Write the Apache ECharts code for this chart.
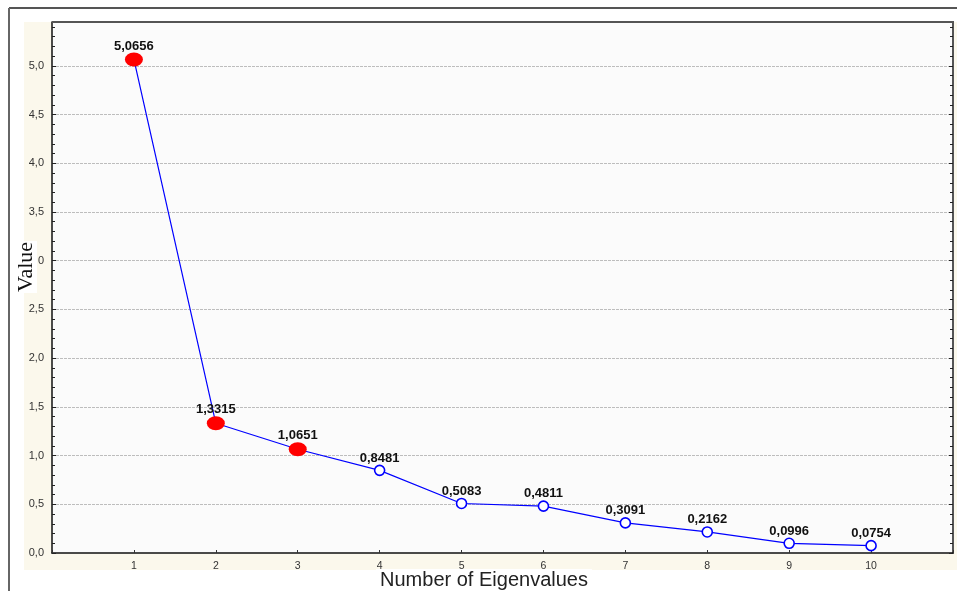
<!DOCTYPE html>
<html>
<head>
<meta charset="utf-8">
<script src="https://cdn.jsdelivr.net/npm/echarts@6/dist/echarts.min.js"></script>
<style>html,body{margin:0;padding:0;background:#fff;}#c{width:957px;height:591px;}</style>
</head>
<body>
<div id="c"></div>
<script>
var categories = [1, 2, 3, 4, 5, 6, 7, 8, 9, 10];
var eigenvalues = [5.0656, 1.3315, 1.0651, 0.8481, 0.5083, 0.4811, 0.3091, 0.2162, 0.0996, 0.0754];
var retained = [true, true, true, false, false, false, false, false, false, false];
var yTicks = ['0,0','0,5','1,0','1,5','2,0','2,5','3,0','3,5','4,0','4,5','5,0'];

function comma(v, d) { return v.toFixed(d).replace('.', ','); }

var pts = categories.map(function (c, i) {
  var big = retained[i];
  return {
    value: [c, eigenvalues[i]],
    symbolSize: big ? [18, 14] : 10,
    itemStyle: big ? { color: '#ff0000', borderColor: '#ff0000', borderWidth: 0 }
                   : { color: '#ffffff', borderColor: '#0000ff', borderWidth: 1.6 }
  };
});

var chart = echarts.init(document.getElementById('c'), null, { renderer: 'canvas' });
chart.setOption({
  animation: false,
  backgroundColor: '#ffffff',
  graphic: [
    { type: 'rect', z: -10, silent: true, shape: { x: 24, y: 22, width: 933, height: 548 }, style: { fill: '#fbf8ec' } },
    { type: 'line', z: 100, silent: true, shape: { x1: 9, y1: 8, x2: 957, y2: 8 }, style: { stroke: '#555555', lineWidth: 2 } },
    { type: 'line', z: 100, silent: true, shape: { x1: 9, y1: 8, x2: 9, y2: 591 }, style: { stroke: '#666666', lineWidth: 2 } },
    { type: 'line', z: 100, silent: true, shape: { x1: 52, y1: 22, x2: 954, y2: 22 }, style: { stroke: '#555555', lineWidth: 2 } },
    { type: 'text', z: 100, x: 26, y: 267, rotation: Math.PI / 2, silent: true,
      style: { text: 'Value', font: '22px "Liberation Serif", serif', fill: '#111', align: 'center', verticalAlign: 'middle', backgroundColor: '#ffffff', padding: [0, 1] } },
    { type: 'text', z: 100, x: 484, y: 580, silent: true,
      style: { text: 'Number of Eigenvalues', font: '20px "Liberation Sans", Arial, sans-serif', fill: '#222', align: 'center', verticalAlign: 'middle', backgroundColor: '#ffffff', padding: [1, 4] } }
  ],
  grid: { left: 52, right: 4, top: 22, bottom: 38, show: true, backgroundColor: '#fbfbfb', borderWidth: 0 },
  xAxis: [{
    type: 'value', min: 0, max: 11, interval: 1,
    axisLine: { show: true, lineStyle: { color: '#111', width: 1.5 } },
    axisTick: { show: true, inside: true, length: 3, lineStyle: { color: '#333' } },
    axisLabel: { color: '#333', fontSize: 10.5, fontFamily: '"Liberation Sans", Arial, sans-serif', margin: 8,
      formatter: function (v) { return (v >= 1 && v <= 10) ? String(v) : ''; } },
    splitLine: { show: false }
  }],
  yAxis: [{
    type: 'value', min: 0, max: 5.45, interval: 0.5,
    axisLine: { show: true, lineStyle: { color: '#111', width: 1.5 } },
    axisTick: { show: true, inside: true, length: 4, lineStyle: { color: '#222' } },
    minorTick: { show: true, splitNumber: 5, length: 3, lineStyle: { color: '#222' } },
    axisLabel: { color: '#333', fontSize: 11, fontFamily: '"Liberation Sans", Arial, sans-serif', margin: 8,
      formatter: function (v) { var k = Math.round(v / 0.5); return Math.abs(k * 0.5 - v) < 1e-6 && k < yTicks.length ? yTicks[k] : ''; } },
    splitLine: { show: true, showMaxLine: false, showMinLine: false, lineStyle: { color: '#bdbdbd', type: [3, 1], width: 1 } }
  }, {
    type: 'value', position: 'right', min: 0, max: 5.45, interval: 0.5,
    axisLine: { show: true, lineStyle: { color: '#555', width: 2 } },
    axisTick: { show: true, inside: true, length: 4, lineStyle: { color: '#222' } },
    minorTick: { show: true, splitNumber: 5, length: 3, lineStyle: { color: '#222' } },
    axisLabel: { show: false }, splitLine: { show: false }
  }],
  series: [{
    type: 'line',
    data: pts,
    symbol: 'circle',
    lineStyle: { color: '#0000ff', width: 1.2 },
    z: 5,
    label: {
      show: true, position: 'top', distance: 0,
      fontSize: 13, fontWeight: 'bold', color: '#111',
      fontFamily: '"Liberation Sans", Arial, sans-serif',
      formatter: function (p) { return comma(p.value[1], 4); }
    }
  }]
});
</script>
</body>
</html>
